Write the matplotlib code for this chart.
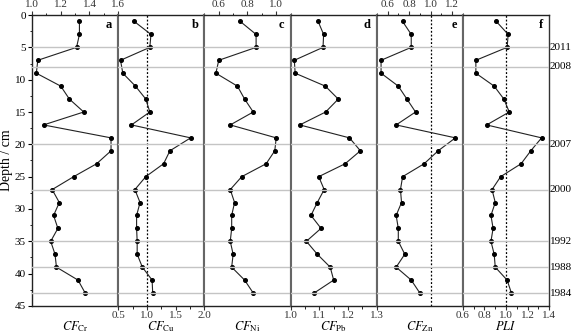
import matplotlib
matplotlib.use("Agg")
from matplotlib import pyplot as plt
from matplotlib.ticker import MultipleLocator

plt.rcParams['font.family'] = ['Liberation Serif', 'DejaVu Serif']
plt.rcParams['mathtext.fontset'] = 'stix'
plt.rcParams['font.size'] = 8

# 数据
depth = [1, 3, 5, 7, 9, 11, 13, 15, 17, 19, 21, 23,
         25, 27, 29, 31, 33, 35, 37, 39, 41, 43]

cf_cr = [1.33, 1.33, 1.31, 1.04, 1.03, 1.20, 1.26, 1.36, 1.08, 1.55, 1.55, 1.45,
         1.29, 1.14, 1.19, 1.15, 1.18, 1.13, 1.16, 1.17, 1.32, 1.37]
cf_cu = [0.78, 1.07, 1.05, 0.54, 0.58, 0.80, 0.98, 1.05, 0.73, 1.76, 1.40, 1.29,
         0.98, 0.79, 0.88, 0.82, 0.82, 0.83, 0.83, 0.92, 1.09, 1.10]
cf_ni = [0.75, 0.86, 0.86, 0.60, 0.58, 0.73, 0.78, 0.84, 0.68, 1.00, 0.99, 0.93,
         0.76, 0.68, 0.71, 0.69, 0.69, 0.68, 0.70, 0.69, 0.78, 0.84]
cf_pb = [1.096, 1.115, 1.113, 1.013, 1.016, 1.121, 1.166, 1.122, 1.032, 1.205, 1.243, 1.19,
         1.098, 1.117, 1.093, 1.071, 1.106, 1.055, 1.093, 1.138, 1.15, 1.082]
cf_zn = [0.74, 0.82, 0.82, 0.54, 0.54, 0.70, 0.78, 0.86, 0.68, 1.23, 1.07, 0.94,
         0.74, 0.72, 0.73, 0.68, 0.70, 0.70, 0.76, 0.68, 0.82, 0.90]
pli = [0.91, 1.02, 1.01, 0.72, 0.72, 0.89, 0.98, 1.03, 0.82, 1.33, 1.23, 1.14,
       0.95, 0.87, 0.90, 0.86, 0.88, 0.86, 0.89, 0.90, 1.01, 1.05]

series = [cf_cr, cf_cu, cf_ni, cf_pb, cf_zn, pli]
letters = ["a", "b", "c", "d", "e", "f"]
xlabels = [r"$\mathit{CF}_{\mathrm{Cr}}$", r"$\mathit{CF}_{\mathrm{Cu}}$",
           r"$\mathit{CF}_{\mathrm{Ni}}$", r"$\mathit{CF}_{\mathrm{Pb}}$",
           r"$\mathit{CF}_{\mathrm{Zn}}$", r"$\mathit{PLI}$"]
xlims = [(1.0, 1.6), (0.5, 2.0), (0.5, 1.1), (1.0, 1.3), (0.5, 1.3), (0.6, 1.4)]
xticks = [[1.0, 1.2, 1.4, 1.6], [0.5, 1.0, 1.5, 2.0], [0.6, 0.8, 1.0],
          [1.0, 1.1, 1.2, 1.3], [0.6, 0.8, 1.0, 1.2], [0.6, 0.8, 1.0, 1.2, 1.4]]
minor = [0.1, 0.25, 0.1, 0.05, 0.1, 0.1]
top_ticks = [True, False, True, False, True, False]
dotted = [False, True, False, False, True, True]

year_depth = [5, 8, 20, 27, 35, 39, 43]
years = ["2011", "2008", "2007", "2000", "1992", "1988", "1984"]

# 图片大小
fig, axes = plt.subplots(1, 6, sharey=True, figsize=(5.72, 3.34), dpi=100)
plt.subplots_adjust(left=0.056, right=0.96, top=0.955, bottom=0.084, wspace=0)

for i, ax in enumerate(axes):
    for d in year_depth:
        ax.axhline(d, color="#c4c4c4", lw=1.0, zorder=3)
    if dotted[i]:
        ax.axvline(1.0, color="black", lw=0.9, ls=(0, (1.5, 1.5)), zorder=1)
    ax.plot(series[i], depth, color="#222222", lw=0.8, marker="o",
            markersize=2.6, markerfacecolor="black", markeredgecolor="black", zorder=2)
    ax.set_xlim(*xlims[i])
    ax.set_xticks(xticks[i])
    ax.set_xticklabels(["{:.1f}".format(t) for t in xticks[i]])
    ax.xaxis.set_minor_locator(MultipleLocator(minor[i]))
    if top_ticks[i]:
        ax.xaxis.tick_top()
    else:
        ax.xaxis.tick_bottom()
    ax.xaxis.set_label_position("bottom")
    ax.set_xlabel(xlabels[i], fontsize=9, va="top")
    ax.xaxis.set_label_coords(0.5, -0.047)
    ax.tick_params(axis="x", which="major", length=3, width=0.8, pad=1.0, colors="#333333")
    ax.tick_params(axis="x", which="minor", length=1.8, width=0.6)
    ax.text(0.93, 0.985, letters[i], transform=ax.transAxes, ha="right", va="top",
            fontsize=9, fontweight="bold")
    for s in ["top", "bottom"]:
        ax.spines[s].set_color("#222222")
        ax.spines[s].set_linewidth(1.0)
    ax.spines["left"].set_color("#666666")
    ax.spines["left"].set_linewidth(1.5)
    ax.spines["right"].set_color("#666666")
    ax.spines["right"].set_linewidth(1.5)
    if i > 0:
        ax.tick_params(axis="y", which="both", left=False)

axes[0].spines["left"].set_color("#222222")
axes[0].spines["left"].set_linewidth(1.0)
axes[5].spines["right"].set_color("#333333")
axes[5].spines["right"].set_linewidth(1.0)

axes[0].set_ylim(45, 0)
axes[0].set_yticks(range(0, 46, 5))
axes[0].yaxis.set_minor_locator(MultipleLocator(2.5))
axes[0].tick_params(axis="y", which="major", length=3, width=0.8, pad=1.5)
axes[0].tick_params(axis="y", which="minor", length=1.8, width=0.6)
axes[0].set_ylabel("Depth / cm", fontsize=10, labelpad=1)

for d, y in zip(year_depth, years):
    axes[5].text(1.005, d, y, transform=axes[5].get_yaxis_transform(),
                 ha="left", va="center", fontsize=8)

# 保存图片
plt.savefig("out.png", dpi=100)
